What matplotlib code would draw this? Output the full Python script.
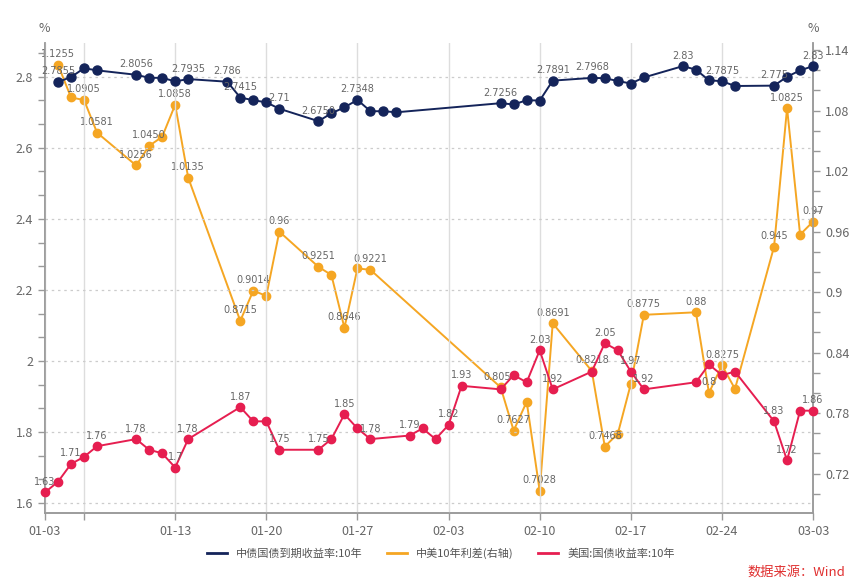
import numpy as np
import pandas as pd
import matplotlib
matplotlib.use('Agg')
import matplotlib.pyplot as plt
import matplotlib.dates as mdates
from matplotlib.ticker import MultipleLocator, FixedLocator, FixedFormatter
from matplotlib.lines import Line2D

plt.rcParams['font.family'] = ['Noto Sans CJK SC', 'DejaVu Sans']

# 中债国债到期收益率:10年 (left axis)
cn_dates = ['01-04', '01-05', '01-06', '01-07', '01-10', '01-11', '01-12', '01-13', '01-14',
            '01-17', '01-18', '01-19', '01-20', '01-21', '01-24', '01-25', '01-26', '01-27',
            '01-28', '01-29', '01-30', '02-07', '02-08', '02-09', '02-10', '02-11', '02-14',
            '02-15', '02-16', '02-17', '02-18', '02-21', '02-22', '02-23', '02-24', '02-25',
            '02-28', '03-01', '03-02', '03-03']
cn_vals = [2.7855, 2.799, 2.824, 2.818, 2.8056, 2.797, 2.797, 2.787, 2.7935,
           2.786, 2.7415, 2.734, 2.728, 2.71, 2.675, 2.697, 2.714, 2.7348,
           2.703, 2.703, 2.70, 2.7256, 2.722, 2.734, 2.733, 2.7891, 2.7968,
           2.796, 2.788, 2.781, 2.798, 2.83, 2.82, 2.79, 2.7875, 2.774,
           2.775, 2.80, 2.818, 2.83]
cn_labels = {'01-04': '2.7855', '01-10': '2.8056', '01-14': '2.7935', '01-17': '2.786',
             '01-18': '2.7415', '01-21': '2.71', '01-24': '2.6750', '01-27': '2.7348',
             '02-07': '2.7256', '02-11': '2.7891', '02-14': '2.7968', '02-21': '2.83',
             '02-24': '2.7875', '02-28': '2.775', '03-03': '2.83'}

# 中美10年利差(右轴)
sp_dates = ['01-04', '01-05', '01-06', '01-07', '01-10', '01-11', '01-12', '01-13', '01-14',
            '01-18', '01-19', '01-20', '01-21', '01-24', '01-25', '01-26', '01-27', '01-28',
            '02-07', '02-08', '02-09', '02-10', '02-11', '02-14', '02-15', '02-16', '02-17',
            '02-18', '02-22', '02-23', '02-24', '02-25', '02-28', '03-01', '03-02', '03-03']
sp_vals = [1.1255, 1.093, 1.0905, 1.0581, 1.0256, 1.045, 1.054, 1.0858, 1.0135,
           0.8715, 0.9014, 0.8963, 0.96, 0.9251, 0.917, 0.8646, 0.9235, 0.9221,
           0.8056, 0.7627, 0.7913, 0.7028, 0.8691, 0.8218, 0.7468, 0.7596, 0.809,
           0.8775, 0.88, 0.8, 0.8275, 0.804, 0.945, 1.0825, 0.957, 0.97]
sp_labels = {'01-04': '1.1255', '01-06': '1.0905', '01-07': '1.0581', '01-10': '1.0256',
             '01-11': '1.0450', '01-13': '1.0858', '01-14': '1.0135', '01-18': '0.8715',
             '01-19': '0.9014', '01-21': '0.96', '01-24': '0.9251', '01-26': '0.8646',
             '01-28': '0.9221', '02-07': '0.8056', '02-08': '0.7627', '02-10': '0.7028',
             '02-11': '0.8691', '02-14': '0.8218', '02-15': '0.7468', '02-18': '0.8775',
             '02-22': '0.88', '02-23': '0.8', '02-24': '0.8275', '02-28': '0.945',
             '03-01': '1.0825', '03-03': '0.97'}

# 美国:国债收益率:10年 (left axis)
us_dates = ['01-03', '01-04', '01-05', '01-06', '01-07', '01-10', '01-11', '01-12', '01-13',
            '01-14', '01-18', '01-19', '01-20', '01-21', '01-24', '01-25', '01-26', '01-27',
            '01-28', '01-31', '02-01', '02-02', '02-03', '02-04', '02-07', '02-08', '02-09',
            '02-10', '02-11', '02-14', '02-15', '02-16', '02-17', '02-18', '02-22', '02-23',
            '02-24', '02-25', '02-28', '03-01', '03-02', '03-03']
us_vals = [1.63, 1.66, 1.71, 1.73, 1.76, 1.78, 1.75, 1.74, 1.70,
           1.78, 1.87, 1.83, 1.83, 1.75, 1.75, 1.78, 1.85, 1.81,
           1.78, 1.79, 1.81, 1.78, 1.82, 1.93, 1.92, 1.96, 1.94,
           2.03, 1.92, 1.97, 2.05, 2.03, 1.97, 1.92, 1.94, 1.99,
           1.96, 1.97, 1.83, 1.72, 1.86, 1.86]
us_labels = {'01-03': '1.63', '01-05': '1.71', '01-07': '1.76', '01-10': '1.78',
             '01-13': '1.7', '01-14': '1.78', '01-18': '1.87', '01-21': '1.75',
             '01-24': '1.75', '01-26': '1.85', '01-28': '1.78', '01-31': '1.79',
             '02-03': '1.82', '02-04': '1.93', '02-10': '2.03', '02-11': '1.92',
             '02-15': '2.05', '02-17': '1.97', '02-18': '1.92', '02-28': '1.83',
             '03-01': '1.72', '03-03': '1.86'}

tick_dates = ['01-03', '01-06', '01-13', '01-20', '01-27', '02-03', '02-10', '02-17', '02-24', '03-03']
tick_text = ['01-03', '', '01-13', '01-20', '01-27', '02-03', '02-10', '02-17', '02-24', '03-03']

YEAR = '2022-'
def to_dt(lst):
    return pd.to_datetime([YEAR + d for d in lst])

c_cn = '#14245a'
c_sp = '#f5a623'
c_us = '#e61e50'
grey = '#999999'
txt = '#666666'

fig = plt.figure(figsize=(8.65, 5.86), dpi=100)
ax = fig.add_axes([0.052, 0.1246, 0.888, 0.802])
ax2 = ax.twinx()
ax.set_zorder(ax2.get_zorder() + 1)
ax.patch.set_visible(False)

x_cn, x_sp, x_us = to_dt(cn_dates), to_dt(sp_dates), to_dt(us_dates)

ax.plot(x_cn, cn_vals, color=c_cn, lw=1.4, marker='o', ms=6.5, zorder=3, clip_on=False)
ax2.plot(x_sp, sp_vals, color=c_sp, lw=1.4, marker='o', ms=6, zorder=3, clip_on=False)
ax.plot(x_us, us_vals, color=c_us, lw=1.4, marker='o', ms=6, zorder=4, clip_on=False)

def put_labels(axis, dates, vals, labels):
    for d, v in zip(dates, vals):
        if d in labels:
            axis.annotate(labels[d], (pd.Timestamp(YEAR + d), v), xytext=(0, 4),
                          textcoords='offset points', ha='center', va='bottom',
                          fontsize=7, color=txt, family='DejaVu Sans', zorder=6,
                          annotation_clip=False)

put_labels(ax, cn_dates, cn_vals, cn_labels)
put_labels(ax2, sp_dates, sp_vals, sp_labels)
put_labels(ax, us_dates, us_vals, us_labels)

ax.set_xlim(pd.Timestamp(YEAR + '01-03'), pd.Timestamp(YEAR + '03-03'))
ax.set_ylim(1.572, 2.895)
ax2.set_ylim(0.681, 1.147)

ax.yaxis.set_major_locator(MultipleLocator(0.2))
ax.yaxis.set_minor_locator(MultipleLocator(0.2 / 3))
ax2.yaxis.set_major_locator(MultipleLocator(0.06))
ax2.yaxis.set_minor_locator(MultipleLocator(0.02))
ax.yaxis.set_major_formatter(plt.FuncFormatter(lambda v, p: ('%.1f' % v).rstrip('0').rstrip('.')))
ax2.yaxis.set_major_formatter(plt.FuncFormatter(lambda v, p: ('%.2f' % v).rstrip('0').rstrip('.')))

xt = mdates.date2num(to_dt(tick_dates))
ax.xaxis.set_major_locator(FixedLocator(xt))
ax.xaxis.set_major_formatter(FixedFormatter(tick_text))

for a in (ax, ax2):
    for s in a.spines.values():
        s.set_color(grey)
        s.set_linewidth(1.1)
    a.spines['top'].set_visible(False)
    a.tick_params(which='both', colors=grey, labelcolor=txt, labelsize=9, length=5, width=1)

ax.grid(axis='y', which='major', linestyle=(0, (2, 3)), color='#cccccc', lw=0.9)
ax.grid(axis='x', which='major', linestyle='-', color='#dddddd', lw=1)
ax.set_axisbelow(True)

fig.text(44 / 865, 1 - 28 / 586, '%', color=txt, fontsize=9, ha='center', va='center')
fig.text(813 / 865, 1 - 28 / 586, '%', color=txt, fontsize=9, ha='center', va='center')

handles = [Line2D([], [], color=c, lw=2) for c in (c_cn, c_sp, c_us)]
fig.legend(handles, ['中债国债到期收益率:10年', '中美10年利差(右轴)', '美国:国债收益率:10年'],
           loc='center', bbox_to_anchor=(0.51, 1 - 553 / 586), ncol=3, frameon=False,
           fontsize=8, labelcolor='#555555', handlelength=1.8, columnspacing=2.2)

fig.text(845 / 865, 1 - 572 / 586, '数据来源：Wind', color='#e03030', fontsize=9.5,
         ha='right', va='center')

fig.savefig('out.png', dpi=100)
